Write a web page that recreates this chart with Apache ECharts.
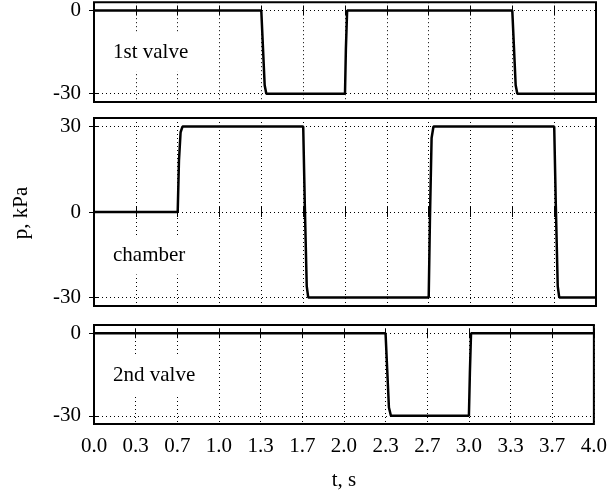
<!DOCTYPE html>
<html>
<head>
<meta charset="utf-8">
<script src="https://cdn.jsdelivr.net/npm/echarts@6/dist/echarts.min.js"></script>
<style>
html,body{margin:0;padding:0;background:#fff;}
#chart{width:610px;height:495px;}
</style>
</head>
<body>
<div id="chart"></div>
<script>
// time / pressure pairs
var valve1T = [0, 1.333, 1.36, 1.373, 2.0, 2.007, 2.017, 3.333, 3.36, 3.373, 4.0];
var valve1P = [0, 0, -27, -30, -30, -14, 0, 0, -27, -30, -30];
var chamberT = [0, 0.667, 0.677, 0.69, 0.705, 1.667, 1.68, 1.695, 1.707, 2.667, 2.677, 2.69, 2.705, 3.667, 3.68, 3.695, 3.707, 4.0];
var chamberP = [0, 0, 18, 28, 30, 30, 2, -26, -30, -30, -2, 26, 30, 30, 2, -26, -30, -30];
var valve2T = [0, 2.333, 2.36, 2.376, 3.0, 3.008, 3.017, 4.0];
var valve2P = [0, 0, -27, -30, -30, -14, 0, 0];
var panelNames = ['1st valve', 'chamber', '2nd valve'];
var yTicksValve = [0, -30];
var yTicksChamber = [30, 0, -30];
var yRangeValve = [-33, 3];
var yRangeChamber = [-33, 33];
var xRange = [0, 4];
var xStep = 1 / 3;
var xTitle = 't, s';
var yTitle = 'p, kPa';

function pairs(t, p) { return t.map(function (v, i) { return [v, p[i]]; }); }

var FONT = 'Liberation Serif';
var grids = [
  {left: 94, width: 502, top: 2, height: 100},
  {left: 94, width: 502, top: 118, height: 188},
  {left: 94, width: 502, top: 325, height: 99}
];
var gridStyle = {show: true, borderColor: '#000', borderWidth: 2, backgroundColor: 'transparent'};
grids = grids.map(function (g) { return Object.assign({}, g, gridStyle); });

var xAxes = [], yAxes = [];
for (var i = 0; i < 3; i++) {
  var isLast = i === 2;
  xAxes.push({
    type: 'value', gridIndex: i, position: 'bottom', min: xRange[0], max: xRange[1], interval: xStep,
    axisLine: {show: false},
    axisTick: {show: true, inside: true, length: 5, lineStyle: {color: '#000', width: 1}},
    axisLabel: {show: isLast, margin: 12, fontFamily: FONT, fontSize: 21, color: '#000',
      formatter: function (v) { return v.toFixed(1); }},
    splitLine: {show: true, lineStyle: {color: '#000', width: 1, type: [1, 3]}},
    name: isLast ? xTitle : '', nameLocation: 'middle', nameGap: 46,
    nameTextStyle: {fontFamily: FONT, fontSize: 21, color: '#000'}
  });
  xAxes.push({
    type: 'value', gridIndex: i, position: 'top', min: xRange[0], max: xRange[1], interval: xStep,
    axisLine: {show: false},
    axisTick: {show: true, inside: true, length: 5, lineStyle: {color: '#000', width: 1}},
    axisLabel: {show: false}, splitLine: {show: false}
  });
  var ticks = i === 1 ? yTicksChamber : yTicksValve;
  var rng = i === 1 ? yRangeChamber : yRangeValve;
  yAxes.push({
    type: 'value', gridIndex: i, position: 'left', min: rng[0], max: rng[1],
    axisLine: {show: false},
    axisTick: {show: true, inside: true, length: 5, customValues: ticks, lineStyle: {color: '#000', width: 1}},
    axisLabel: {show: true, margin: 13, customValues: ticks, fontFamily: FONT, fontSize: 21, color: '#000'},
    splitLine: {show: true, customValues: ticks, lineStyle: {color: '#000', width: 1, type: [1, 3]}}
  });
  yAxes.push({
    type: 'value', gridIndex: i, position: 'right', min: rng[0], max: rng[1],
    axisLine: {show: false},
    axisTick: {show: true, inside: true, length: 5, customValues: ticks, lineStyle: {color: '#000', width: 1}},
    axisLabel: {show: false}, splitLine: {show: false}
  });
}

var seriesData = [pairs(valve1T, valve1P), pairs(chamberT, chamberP), pairs(valve2T, valve2P)];
var series = seriesData.map(function (d, i) {
  return {
    type: 'line', xAxisIndex: i * 2, yAxisIndex: i * 2, data: d,
    showSymbol: false, symbol: 'none', animation: false,
    lineStyle: {color: '#000', width: 2.5}, z: 3
  };
});

var labelPos = [[101, 52], [101, 255], [101, 375]];
var graphics = panelNames.map(function (n, i) {
  return {
    type: 'text', x: labelPos[i][0], y: labelPos[i][1], z: 10,
    style: {text: n, fontFamily: FONT, fontSize: 21, fill: '#000', align: 'left', verticalAlign: 'middle',
      backgroundColor: '#fff', padding: [9, 20, 9, 12]}
  };
});
graphics.push({
  type: 'text', x: 21, y: 213, rotation: Math.PI / 2, z: 10,
  style: {text: yTitle, fontFamily: FONT, fontSize: 21, fill: '#000', align: 'center', verticalAlign: 'middle'}
});

var chart = echarts.init(document.getElementById('chart'), null, {renderer: 'canvas'});
chart.setOption({
  animation: false,
  backgroundColor: '#fff',
  grid: grids,
  xAxis: xAxes,
  yAxis: yAxes,
  series: series,
  graphic: graphics
});
</script>
</body>
</html>
